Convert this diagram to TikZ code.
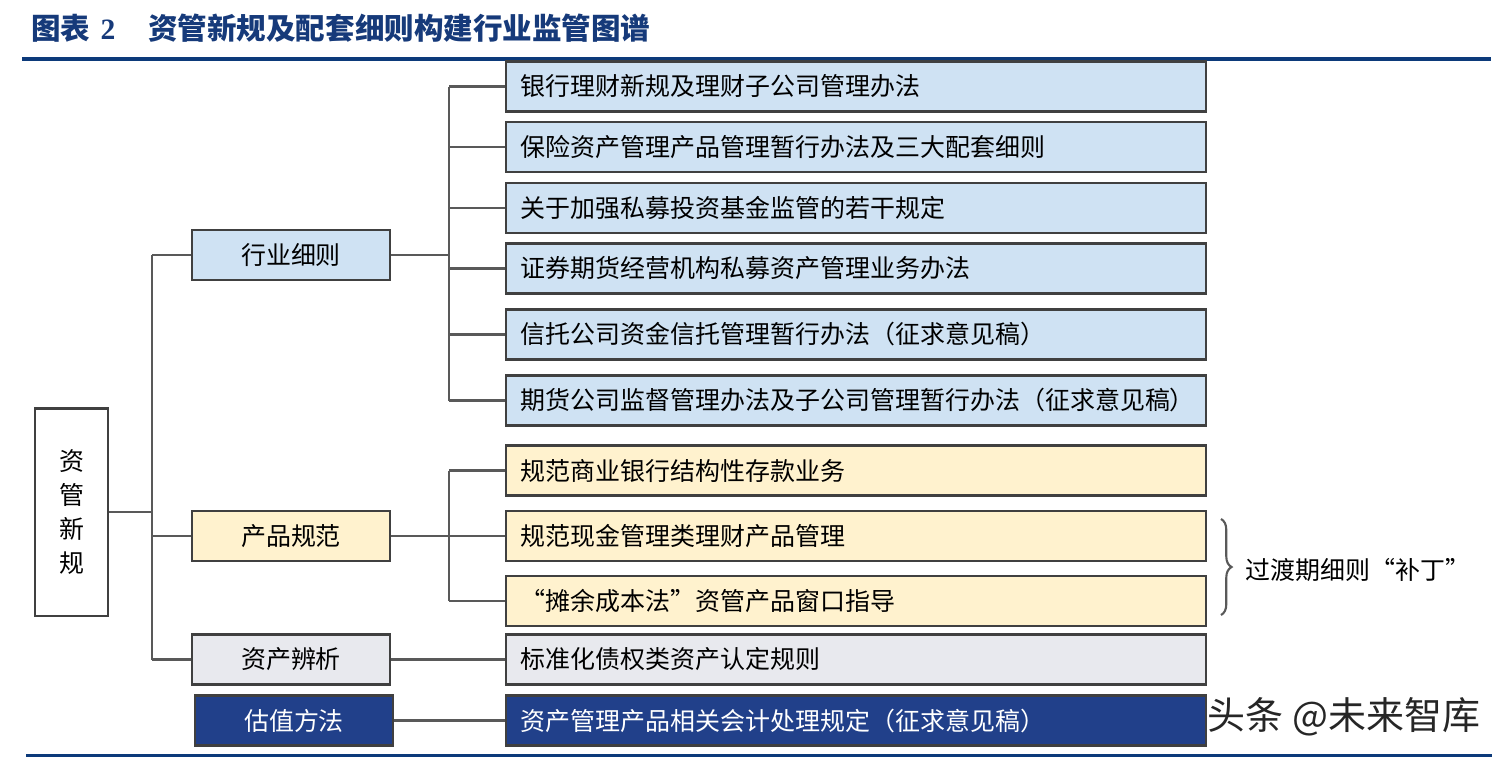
\documentclass[tikz,border=0pt]{standalone}
\usepackage{fontspec}
\setmainfont{Noto Sans CJK SC}
\newfontfamily\serifnum{Liberation Serif}
\usetikzlibrary{decorations.pathreplacing}
\definecolor{lblue}{RGB}{207,226,243}
\definecolor{lyellow}{RGB}{255,242,206}
\definecolor{lgray}{RGB}{232,233,238}
\definecolor{dblue}{RGB}{33,64,138}
\definecolor{titleblue}{RGB}{22,58,122}
\definecolor{rulec}{RGB}{12,58,122}
\newcommand{\boxfont}{\fontsize{7.1pt}{8pt}\selectfont}
\begin{document}
\begin{tikzpicture}[x=0.01cm, y=-0.01cm,
    box/.style={draw=black!75, line width=0.6pt, minimum height=0.5cm, inner sep=0pt, font=\boxfont},
    item/.style={box, minimum width=7cm, text width=6.7cm, align=left},
    cat/.style={box, minimum width=1.98cm},
    conn/.style={draw=black!65, line width=0.6pt}]
    \useasboundingbox (0,0) rectangle (1505,757);
    \node[anchor=west, text=titleblue, font=\fontsize{8.4pt}{9pt}\selectfont\bfseries] (title) at (19,28)
        {图表\hspace{0.1cm}{\serifnum 2}\hspace{0.33cm}资管新规及配套细则构建行业监管图谱};
    \draw[rulec, line width=0.9pt] (22,59) -- (1491,59);
    \draw[rulec, line width=0.9pt] (26,755.5) -- (1492,755.5);

    \node[box, minimum width=0.73cm, minimum height=2.07cm, align=center,
          font=\fontsize{7.1pt}{9.6pt}\selectfont] (root) at (71.5,512) {资\\管\\新\\规};

    \node[cat, fill=lblue] (hy) at (291,255) {行业细则};
    \node[cat, fill=lyellow] (cp) at (291,536) {产品规范};
    \node[cat, fill=lgray] (zc) at (291,659.5) {资产辨析};
    \node[cat, fill=dblue, text=white] (gz) at (294,720.5) {估值方法};

    \node[item, fill=lblue] (r1) at (856,86.5) {银行理财新规及理财子公司管理办法};
    \node[item, fill=lblue] (r2) at (856,147) {保险资产管理产品管理暂行办法及三大配套细则};
    \node[item, fill=lblue] (r3) at (856,208) {关于加强私募投资基金监管的若干规定};
    \node[item, fill=lblue] (r4) at (856,268.5) {证券期货经营机构私募资产管理业务办法};
    \node[item, fill=lblue] (r5) at (856,334.5) {信托公司资金信托管理暂行办法（征求意见稿）};
    \node[item, fill=lblue] (r6) at (856,400.5) {期货公司监督管理办法及子公司管理暂行办法（征求意见稿）};
    \node[item, fill=lyellow] (p1) at (856,470.5) {规范商业银行结构性存款业务};
    \node[item, fill=lyellow] (p2) at (856,536) {规范现金管理类理财产品管理};
    \node[item, fill=lyellow] (p3) at (856,601) {“摊余成本法”资管产品窗口指导};
    \node[item, fill=lgray] (a1) at (856,659.5) {标准化债权类资产认定规则};
    \node[item, fill=dblue, text=white] (v1) at (856,720.5) {资产管理产品相关会计处理规定（征求意见稿）};

    \coordinate (j0) at (152,512);
    \coordinate (j1) at (449,255);
    \coordinate (j2) at (449,536);
    \draw[conn] (root.east) -- (j0);
    \draw[conn] (hy.west -| j0) -- (zc.west -| j0);
    \foreach \n in {hy,cp,zc}
        \draw[conn] (\n.west -| j0) -- (\n.west);
    \draw[conn] (hy.east) -- (j1);
    \draw[conn] (r1.west -| j1) -- (r6.west -| j1);
    \foreach \n in {r1,r2,r3,r4,r5,r6}
        \draw[conn] (\n.west -| j1) -- (\n.west);
    \draw[conn] (cp.east) -- (j2);
    \draw[conn] (p1.west -| j2) -- (p3.west -| j2);
    \foreach \n in {p1,p2,p3}
        \draw[conn] (\n.west -| j2) -- (\n.west);
    \draw[conn] (zc.east) -- (a1.west);
    \draw[conn] (gz.east) -- (v1.west);

    \draw[conn, decorate, decoration={brace, amplitude=3pt}] (1221,519) -- (1221,615);
    \node[anchor=west, font=\boxfont] (note) at (1233,570) {过渡期细则“补丁”};
    \node[font=\fontsize{10.8pt}{12pt}\selectfont, text=black!85] (wm) at (1344,717) {头条 @未来智库};
\end{tikzpicture}
\end{document}
